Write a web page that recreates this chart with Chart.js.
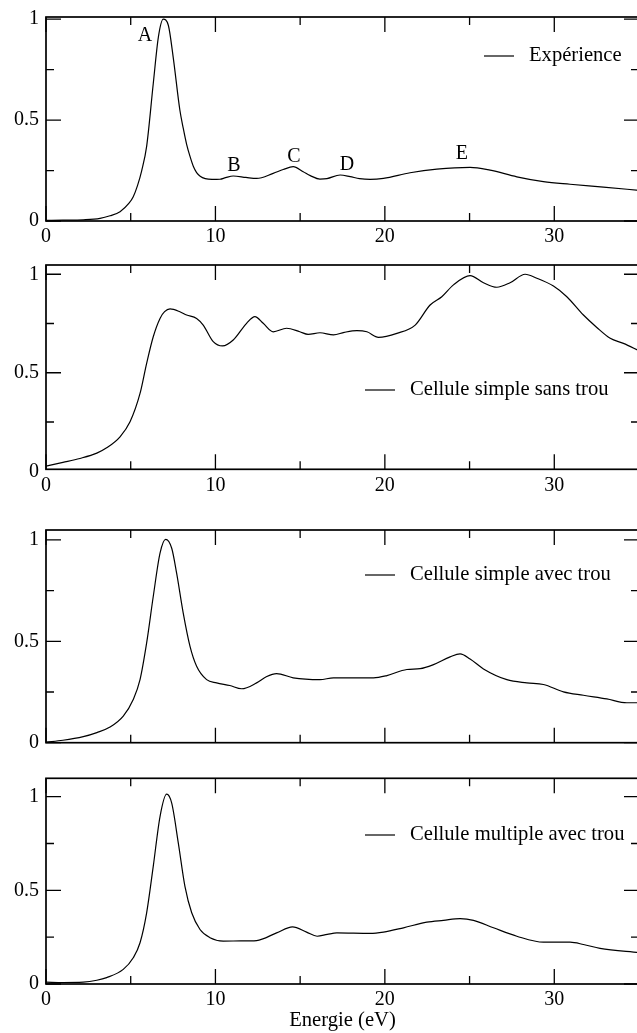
<!DOCTYPE html>
<html>
<head>
<meta charset="utf-8">
<script src="https://cdn.jsdelivr.net/npm/chart.js@4.4.1/dist/chart.umd.min.js"></script>
<style>
  html, body { margin: 0; padding: 0; background: #fff; width: 637px; height: 1033px; overflow: hidden; position: relative; }
  canvas { position: absolute; left: 0; }
</style>
</head>
<body>
<canvas id="p1" width="641" height="250" style="top:0px"></canvas>
<canvas id="p2" width="641" height="250" style="top:250px"></canvas>
<canvas id="p3" width="641" height="260" style="top:500px"></canvas>
<canvas id="p4" width="641" height="273" style="top:760px"></canvas>
<script>
// ---- data (energy in eV, normalised intensity) ----
const expE = [0, 1, 2.2, 3.19, 3.78, 4.37, 4.9, 5.15, 5.4, 5.65, 5.94, 6.33, 6.63, 6.92, 7.22, 7.51, 7.9, 8.1, 8.3, 8.5, 8.7, 8.89, 9.1, 9.4, 9.8, 10.27, 10.6, 11.05, 11.8, 12.43, 13.41, 14.0, 14.59, 15.18, 15.6, 16.17, 16.58, 17.36, 17.95, 18.5, 19.13, 19.92, 21.49, 23.07, 25.03, 26.21, 27.79, 29.36, 30.93, 32.9, 35];
const expI = [0.003, 0.004, 0.006, 0.013, 0.026, 0.046, 0.088, 0.12, 0.175, 0.25, 0.37, 0.68, 0.91, 1.0, 0.97, 0.81, 0.55, 0.46, 0.38, 0.32, 0.27, 0.24, 0.222, 0.21, 0.206, 0.207, 0.215, 0.223, 0.216, 0.211, 0.236, 0.255, 0.269, 0.244, 0.225, 0.208, 0.21, 0.228, 0.22, 0.21, 0.206, 0.211, 0.239, 0.257, 0.266, 0.252, 0.219, 0.195, 0.182, 0.168, 0.152];

const sansTrouE = [0, 1, 2.0, 3.0, 3.58, 4.37, 4.96, 5.55, 5.94, 6.33, 6.73, 7.0, 7.32, 7.9, 8.3, 8.89, 9.28, 9.87, 10.42, 11.05, 11.84, 12.33, 12.82, 13.41, 14.2, 14.98, 15.47, 16.17, 16.97, 17.6, 18.35, 18.94, 19.62, 20.71, 21.79, 22.67, 23.36, 24.05, 25.03, 25.82, 26.61, 27.39, 28.28, 28.97, 29.95, 30.74, 31.72, 32.51, 33.3, 34.08, 35];
const sansTrouI = [0.026, 0.045, 0.065, 0.092, 0.119, 0.175, 0.251, 0.395, 0.548, 0.683, 0.776, 0.81, 0.824, 0.81, 0.793, 0.776, 0.742, 0.658, 0.636, 0.666, 0.751, 0.785, 0.751, 0.708, 0.726, 0.708, 0.695, 0.703, 0.692, 0.705, 0.714, 0.708, 0.68, 0.70, 0.742, 0.844, 0.886, 0.946, 0.993, 0.957, 0.934, 0.957, 1.0, 0.98, 0.94, 0.886, 0.793, 0.73, 0.675, 0.649, 0.612];

const avecTrouE = [0, 1, 2.2, 3.0, 3.78, 4.56, 5.15, 5.55, 5.94, 6.33, 6.73, 7.06, 7.42, 7.71, 8.1, 8.5, 8.89, 9.48, 10.07, 10.85, 11.55, 12.43, 13.0, 13.61, 14.59, 16.17, 16.97, 19.33, 20.12, 21.3, 22.08, 22.87, 23.85, 24.44, 25.03, 25.82, 27.2, 28.38, 29.36, 30.54, 31.72, 33.1, 34.28, 35];
const avecTrouI = [0.003, 0.012, 0.03, 0.05, 0.077, 0.131, 0.213, 0.311, 0.492, 0.721, 0.935, 1.003, 0.959, 0.836, 0.639, 0.475, 0.377, 0.311, 0.295, 0.282, 0.266, 0.295, 0.325, 0.341, 0.32, 0.311, 0.32, 0.32, 0.331, 0.361, 0.365, 0.385, 0.423, 0.438, 0.413, 0.364, 0.311, 0.295, 0.287, 0.251, 0.234, 0.216, 0.197, 0.197];

const multipleE = [0, 1, 2.2, 3.0, 3.58, 4.56, 5.15, 5.55, 5.94, 6.33, 6.73, 7.12, 7.42, 7.81, 8.2, 8.6, 9.09, 9.68, 10.46, 11.5, 12.43, 13.61, 14.55, 15.38, 16.0, 16.6, 17.17, 19.13, 19.92, 21.1, 22.48, 23.46, 24.44, 25.23, 26.41, 27.79, 29.36, 30.93, 31.72, 32.7, 35];
const multipleI = [0.01, 0.008, 0.01, 0.02, 0.034, 0.078, 0.14, 0.22, 0.38, 0.628, 0.894, 1.013, 0.965, 0.752, 0.521, 0.38, 0.291, 0.247, 0.229, 0.23, 0.232, 0.273, 0.305, 0.277, 0.255, 0.265, 0.273, 0.27, 0.277, 0.30, 0.33, 0.34, 0.349, 0.34, 0.30, 0.255, 0.223, 0.223, 0.211, 0.19, 0.168];

const seriesLabels = ['Expérience', 'Cellule simple sans trou', 'Cellule simple avec trou', 'Cellule multiple avec trou'];

// peak labels on the experimental curve
const peakNames = ['A', 'B', 'C', 'D', 'E'];
const peakE = [5.84, 11.09, 14.63, 17.76, 24.54];
const peakI = [0.92, 0.272, 0.317, 0.277, 0.332];

// ticks
const xMajor = [0, 10, 20, 30];
const xMinor = [5, 15, 25, 35];
const yMajor = [0, 0.5, 1];
const yMinor = [0.25, 0.75];
const yTickText = ['0', '0.5', '1'];
const xTitle = 'Energie (eV)';

const FONT = '"Liberation Serif", "Times New Roman", serif';

// frame, inward ticks, legend and letters
const frameTicks = {
  id: 'frameTicks',
  afterDraw(chart, args, opts) {
    const { ctx, chartArea: a } = chart;
    const x = chart.scales.x, y = chart.scales.y;
    ctx.save();
    ctx.strokeStyle = '#000';
    ctx.lineWidth = 1.7;
    ctx.strokeRect(a.left, a.top, a.right - a.left, a.bottom - a.top);

    ctx.lineWidth = 1.3;
    ctx.beginPath();
    const xt = (vals, len) => vals.forEach(v => {
      const px = x.getPixelForValue(v);
      if (px > a.right + 0.5) return;
      ctx.moveTo(px, a.bottom); ctx.lineTo(px, a.bottom - len);
      ctx.moveTo(px, a.top); ctx.lineTo(px, a.top + len);
    });
    const yt = (vals, len) => vals.forEach(v => {
      const py = y.getPixelForValue(v);
      if (py < a.top - 0.5 || py > a.bottom + 0.5) return;
      ctx.moveTo(a.left, py); ctx.lineTo(a.left + len, py);
      ctx.moveTo(a.right, py); ctx.lineTo(a.right - len, py);
    });
    xt(xMajor, 15); xt(xMinor, 8);
    yt(yMajor, 15); yt(yMinor, 8);
    ctx.stroke();

    ctx.fillStyle = '#000';
    ctx.textBaseline = 'middle';

    // legend
    const lg = opts.legend;
    ctx.font = '20.6px ' + FONT;
    ctx.lineWidth = 1.2;
    ctx.beginPath();
    ctx.moveTo(lg.x, lg.y); ctx.lineTo(lg.x + 30, lg.y);
    ctx.stroke();
    ctx.textAlign = 'left';
    ctx.fillText(chart.data.datasets[0].label, lg.x + 45, lg.y);

    // letters
    if (opts.peaks) {
      ctx.font = '20px ' + FONT;
      ctx.textAlign = 'center';
      peakNames.forEach((n, i) => {
        ctx.fillText(n, x.getPixelForValue(peakE[i]), y.getPixelForValue(peakI[i]));
      });
    }
    ctx.restore();
  }
};

function makePanel(id, xs, ys, label, cfg) {
  const font = { family: FONT, size: 20 };
  return new Chart(document.getElementById(id), {
    type: 'line',
    data: {
      datasets: [{
        label,
        data: xs.map((e, i) => ({ x: e, y: ys[i] })),
        borderColor: '#000',
        borderWidth: 1.2,
        pointRadius: 0,
        fill: false,
        cubicInterpolationMode: 'monotone'
      }]
    },
    options: {
      responsive: false,
      animation: false,
      events: [],
      layout: { padding: { top: cfg.padTop, right: 2, left: 0, bottom: 0 } },
      plugins: {
        legend: { display: false },
        tooltip: { enabled: false },
        frameTicks: { legend: cfg.legend, peaks: !!cfg.peaks }
      },
      scales: {
        x: {
          type: 'linear', min: 0, max: 35,
          afterBuildTicks: s => { s.ticks = xMajor.map(v => ({ value: v })); },
          ticks: { display: cfg.showX, color: '#000', font, padding: 4, maxRotation: 0, autoSkip: false, callback: v => String(v) },
          grid: { display: false, drawTicks: false },
          border: { display: false },
          title: { display: !!cfg.title, text: xTitle, color: '#000', font: { family: FONT, size: 20.6 }, padding: { top: 0, bottom: 0 } },
          afterFit: s => { s.height = cfg.xH; s.paddingLeft = 0; s.paddingRight = 0; }
        },
        y: {
          min: cfg.yMin, max: cfg.yMax,
          afterBuildTicks: s => { s.ticks = yMajor.map(v => ({ value: v })); },
          ticks: { color: '#000', font, padding: 7, autoSkip: false, callback: v => yTickText[yMajor.indexOf(v)] },
          grid: { display: false, drawTicks: false },
          border: { display: false },
          afterFit: s => { s.width = 46; s.paddingTop = 0; s.paddingBottom = 0; }
        }
      }
    },
    plugins: [frameTicks]
  });
}

makePanel('p1', expE, expI, seriesLabels[0], { padTop: 17, xH: 29, showX: true, yMin: 0, yMax: 1.011, legend: { x: 484, y: 56 }, peaks: true });
makePanel('p2', sansTrouE, sansTrouI, seriesLabels[1], { padTop: 15, xH: 30.7, showX: true, yMin: 0.01, yMax: 1.047, legend: { x: 365, y: 140 } });
makePanel('p3', avecTrouE, avecTrouI, seriesLabels[2], { padTop: 30, xH: 17.3, showX: false, yMin: 0, yMax: 1.049, legend: { x: 365, y: 75 } });
makePanel('p4', multipleE, multipleI, seriesLabels[3], { padTop: 18.3, xH: 49, showX: true, title: true, yMin: 0, yMax: 1.098, legend: { x: 365, y: 75 } });
</script>
</body>
</html>
